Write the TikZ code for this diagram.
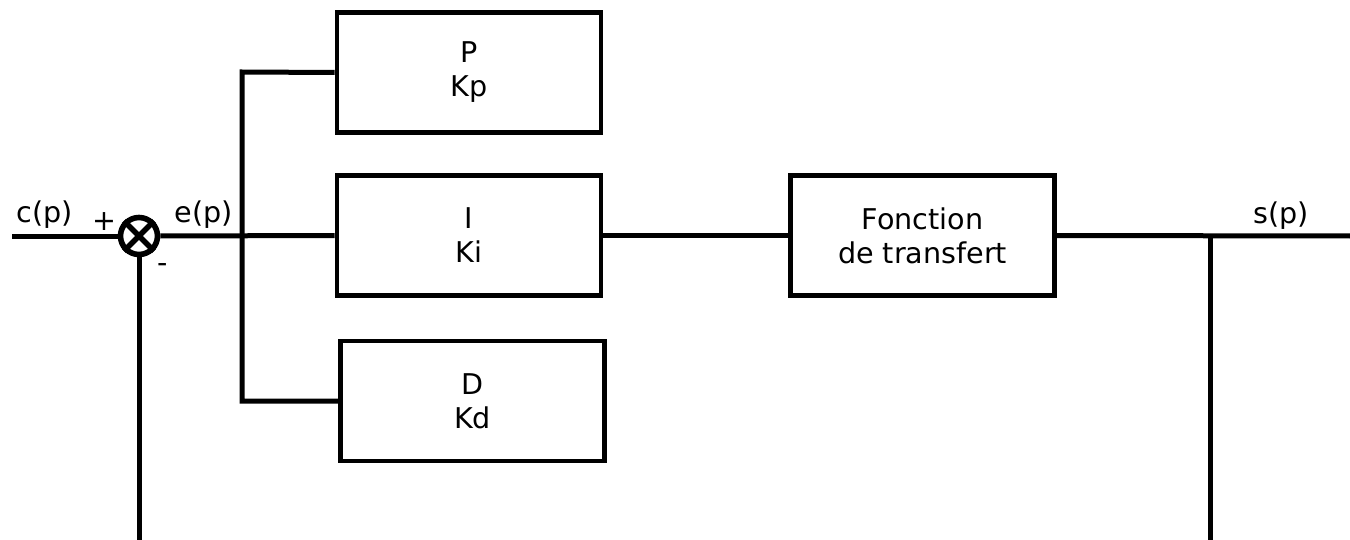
\documentclass[tikz,border=0pt]{standalone}
\usepackage{fontspec}
\setmainfont{DejaVu Sans}
\begin{document}
\begin{tikzpicture}[x=0.5pt,y=-0.5pt,
  wire/.style={line width=2.5pt},
  block/.style={draw,line width=2.3pt,minimum width=132pt,minimum height=60pt,
    align=center,inner sep=0pt,font=\fontsize{14.3}{17}\selectfont},
  lbl/.style={inner sep=0pt,font=\fontsize{14.3}{17}\selectfont},
  sumnode/.style={draw,circle,line width=2.8pt,minimum size=18.5pt,inner sep=0pt}]
\useasboundingbox (0,0) rectangle (1350,540);

% blocks of the controller and the plant
\node[block] (P) at (469,72.5) {P\\Kp};
\node[block] (I) at (469,235.5) {I\\Ki};
\node[block] (D) at (472.5,401) {D\\Kd};
\node[block] (F) at (922.5,235.5) {Fonction\\de transfert};

% summing junction
\node[sumnode] (S) at (139,236) {};
\draw[line width=2.8pt] (S.north west) -- (S.south east) (S.north east) -- (S.south west);

% signal points
\coordinate (in) at (12,236);
\coordinate (out) at (1350,236);
\coordinate (tap) at (1210,236);
\coordinate (fbL) at (139,540);
\coordinate (fbR) at (1210,540);
\coordinate (busT) at (242,72);
\coordinate (busB) at (242,401);

% connectors
\draw[wire] (in) -- (S.west);
\draw[wire] (S.east) -- (I.west);
\draw[wire] (P.west) -- (busT) -- (busB) -- (D.west);
\draw[wire] (I.east) -- (F.west);
\draw[wire] (F.east) -- (out);
\draw[wire] (tap) -- (fbR);
\draw[wire] (S.south) -- (fbL);

% signal labels
\node[lbl,anchor=base] (c) at (45,222) {c(p)};
\node[lbl,anchor=base] (e) at (204,222) {e(p)};
\node[lbl,anchor=base] (s) at (1281,223) {s(p)};
\node[lbl] (plus) at (104,222) {+};
\node[lbl] (minus) at (163,268) {-};
\end{tikzpicture}
\end{document}
